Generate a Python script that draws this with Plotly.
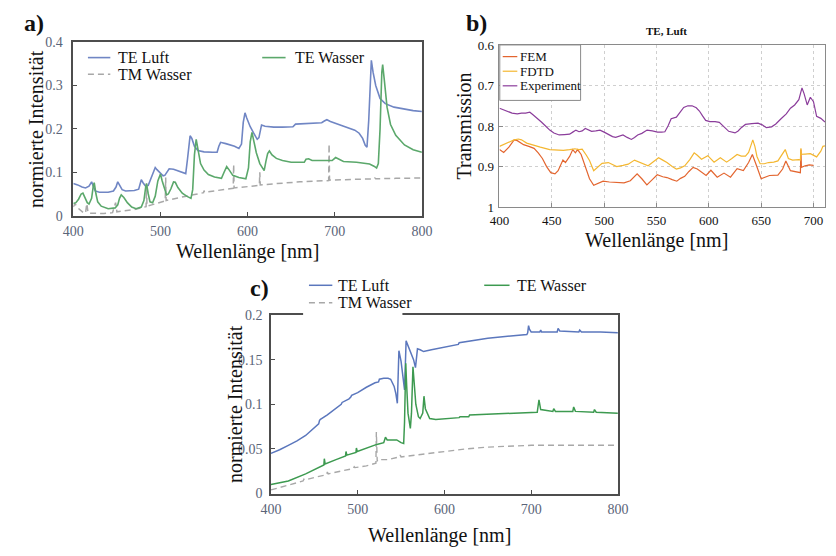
import plotly.graph_objects as go

# ---------------- Panel a data ----------------
a_luft_x = [400, 405, 410, 414, 418, 421, 423, 425, 430, 440, 446, 449, 451, 453, 456, 460, 470, 475, 478, 480,
            483, 486, 489, 492, 494, 496, 500, 503, 505, 508, 510, 515, 520, 525, 529, 531, 534, 536, 539, 543,
            550, 560, 565, 567, 569, 575, 585, 590, 593, 595, 597, 599, 603, 607, 611, 613, 616, 620, 630, 640,
            652, 655, 670, 685, 688, 691, 695, 705, 715, 723, 728, 732, 735, 737, 739, 741, 742, 744, 747, 752,
            758, 768, 780, 790, 800]
a_luft_y = [0.074, 0.071, 0.066, 0.064, 0.068, 0.078, 0.068, 0.057, 0.054, 0.054, 0.057, 0.066, 0.078, 0.072, 0.060,
            0.057, 0.058, 0.061, 0.083, 0.076, 0.068, 0.070, 0.085, 0.104, 0.111, 0.106, 0.097, 0.092, 0.093, 0.104,
            0.108, 0.107, 0.103, 0.099, 0.097, 0.130, 0.184, 0.178, 0.160, 0.150, 0.147, 0.146, 0.146, 0.160, 0.169,
            0.166, 0.160, 0.155, 0.165, 0.215, 0.237, 0.225, 0.205, 0.190, 0.176, 0.180, 0.209, 0.206, 0.204, 0.204,
            0.205, 0.211, 0.212, 0.214, 0.218, 0.221, 0.217, 0.210, 0.204, 0.197, 0.190, 0.178, 0.162, 0.158, 0.220,
            0.330, 0.358, 0.330, 0.300, 0.270, 0.258, 0.250, 0.245, 0.242, 0.240]

a_wasser_x = [400, 403, 406, 409, 411, 413, 416, 418, 421, 423, 424, 426, 428, 432, 440, 448, 451, 453, 455, 458,
              462, 467, 472, 478, 481, 483, 484, 486, 488, 491, 494, 497, 499, 500, 502, 505, 507, 509, 512, 515,
              517, 520, 525, 530, 535, 537, 539, 541, 543, 546, 550, 555, 562, 570, 573, 576, 579, 583, 590, 598,
              601, 603, 605, 607, 610, 614, 619, 621, 623, 625, 628, 633, 640, 650, 660, 665, 667, 670, 674, 690,
              697, 701, 704, 710, 725, 740, 745, 748, 750, 752, 754, 755, 757, 760, 764, 770, 780, 790, 800]
a_wasser_y = [0.028, 0.030, 0.038, 0.050, 0.052, 0.043, 0.030, 0.027, 0.040, 0.070, 0.076, 0.050, 0.032, 0.022, 0.016,
              0.018, 0.025, 0.040, 0.048, 0.042, 0.030, 0.020, 0.016, 0.020, 0.035, 0.065, 0.074, 0.050, 0.032, 0.030,
              0.045, 0.080, 0.095, 0.096, 0.080, 0.058, 0.048, 0.050, 0.062, 0.078, 0.077, 0.065, 0.052, 0.045, 0.040,
              0.060, 0.140, 0.176, 0.150, 0.120, 0.105, 0.095, 0.089, 0.086, 0.100, 0.113, 0.105, 0.093, 0.088, 0.085,
              0.110, 0.170, 0.192, 0.175, 0.145, 0.120, 0.104, 0.125, 0.143, 0.149, 0.140, 0.132, 0.127, 0.123, 0.122,
              0.123, 0.130, 0.131, 0.127, 0.126, 0.127, 0.134, 0.131, 0.125, 0.123, 0.119, 0.114, 0.110, 0.120, 0.200,
              0.330, 0.348, 0.310, 0.250, 0.210, 0.185, 0.163, 0.152, 0.146]

a_tm_x = [400, 402, 404, 408, 412, 414, 415.5, 417, 425, 435, 445, 448.5, 450, 460, 470, 480, 483.5, 484, 484.5, 490,
          500, 505.5, 506, 506.5, 520, 535, 549.5, 550, 550.5, 565, 583.5, 584, 584.5, 600, 613.5, 614, 614.5, 640,
          660, 693, 693.5, 694, 720, 745, 746, 747, 770, 800]
a_tm_y = [0.020, 0.028, 0.020, 0.012, 0.006, 0.006, 0.028, 0.006, 0.005, 0.005, 0.007, 0.030, 0.009, 0.011, 0.014,
          0.019, 0.021, 0.075, 0.022, 0.025, 0.031, 0.034, 0.088, 0.035, 0.041, 0.047, 0.053, 0.058, 0.054, 0.058,
          0.063, 0.118, 0.064, 0.067, 0.070, 0.100, 0.071, 0.075, 0.078, 0.081, 0.165, 0.082, 0.083, 0.085, 0.087,
          0.085, 0.086, 0.087]

# ---------------- Panel b data ----------------
b_exp_x = [400, 404, 408, 412, 417, 421, 425, 429, 432, 436, 440, 444, 448, 452, 457, 462, 467, 470, 473, 476, 479,
           482, 485, 488, 492, 496, 500, 504, 508, 511, 514, 518, 522, 526, 529, 532, 536, 541, 546, 551, 555, 558,
           561, 564, 569, 572, 576, 580, 584, 588, 591, 594, 597, 601, 606, 610, 614, 619, 625, 628, 631, 635, 641,
           647, 651, 655, 660, 664, 669, 674, 678, 682, 686, 689, 691, 694, 697, 700, 703, 707, 711]
b_exp_y = [0.756, 0.760, 0.764, 0.768, 0.770, 0.768, 0.768, 0.766, 0.772, 0.780, 0.790, 0.800, 0.810, 0.817, 0.822,
           0.821, 0.820, 0.815, 0.810, 0.814, 0.812, 0.806, 0.810, 0.813, 0.812, 0.810, 0.815, 0.821, 0.826, 0.828,
           0.826, 0.822, 0.828, 0.833, 0.828, 0.822, 0.818, 0.810, 0.812, 0.815, 0.815, 0.814, 0.800, 0.782, 0.778,
           0.768, 0.754, 0.750, 0.750, 0.755, 0.763, 0.775, 0.786, 0.789, 0.789, 0.791, 0.800, 0.813, 0.817, 0.812,
           0.804, 0.796, 0.794, 0.793, 0.797, 0.804, 0.802, 0.795, 0.782, 0.770, 0.756, 0.748, 0.735, 0.706, 0.720,
           0.748, 0.729, 0.740, 0.776, 0.781, 0.790]

b_fdtd_x = [400, 404, 408, 414, 418, 421, 426, 432, 439, 448, 455, 461, 467, 472, 476, 479, 483, 486, 490, 494, 498,
            504, 508, 512, 518, 523, 529, 534, 538, 542, 547, 552, 556, 560, 565, 569, 573, 577, 582, 586, 589, 593,
            599, 605, 611, 617, 622, 627, 631, 635, 638, 641, 642, 644, 646, 649, 653, 657, 662, 666, 670, 673, 676,
            680, 686, 687.5, 688, 688.5, 692, 697, 703, 707, 709, 711]
b_fdtd_y = [0.850, 0.846, 0.841, 0.834, 0.832, 0.834, 0.842, 0.847, 0.852, 0.858, 0.860, 0.860, 0.858, 0.856, 0.858,
            0.857, 0.872, 0.885, 0.910, 0.900, 0.892, 0.890, 0.895, 0.900, 0.897, 0.894, 0.884, 0.889, 0.895, 0.898,
            0.888, 0.878, 0.884, 0.890, 0.900, 0.906, 0.903, 0.898, 0.882, 0.866, 0.872, 0.882, 0.873, 0.889, 0.878,
            0.889, 0.880, 0.870, 0.874, 0.874, 0.865, 0.840, 0.834, 0.850, 0.875, 0.893, 0.893, 0.890, 0.889, 0.886,
            0.870, 0.858, 0.880, 0.884, 0.883, 0.884, 0.855, 0.870, 0.869, 0.868, 0.876, 0.862, 0.850, 0.849]

b_fem_x = [400, 404, 409, 414, 417, 423, 428, 433, 437, 441, 445, 449, 453, 456, 460.6, 463, 467, 470, 472.5, 474.6,
           478, 482, 486, 490, 494, 499, 505, 512, 519, 525, 531.5, 536, 540.8, 546, 550.7, 556, 560, 565, 569.4,
           573, 577, 581, 585, 589, 593, 597.4, 602, 608, 614.5, 620.7, 627, 633, 638, 641.6, 645.6, 650, 658, 666,
           670.5, 673.6, 678, 686, 687.5, 688, 688.5, 692, 696, 700]
b_fem_y = [0.858, 0.865, 0.852, 0.834, 0.836, 0.846, 0.850, 0.855, 0.866, 0.880, 0.900, 0.915, 0.918, 0.910, 0.884,
           0.890, 0.875, 0.858, 0.866, 0.858, 0.870, 0.900, 0.930, 0.946, 0.942, 0.936, 0.938, 0.939, 0.940, 0.935,
           0.918, 0.930, 0.945, 0.932, 0.920, 0.925, 0.927, 0.932, 0.936, 0.929, 0.924, 0.912, 0.902, 0.906, 0.914,
           0.922, 0.909, 0.926, 0.916, 0.926, 0.905, 0.910, 0.890, 0.870, 0.898, 0.930, 0.922, 0.921, 0.906, 0.886,
           0.910, 0.914, 0.915, 0.858, 0.902, 0.898, 0.896, 0.897]

# ---------------- Panel c data ----------------
c_luft_x = [400, 410, 420, 430, 440, 450, 455, 456, 457, 465, 475, 481, 482, 490, 492, 493, 500, 510, 520, 524, 525,
            530, 535, 538, 542, 544, 545.7, 547.5, 550, 552, 554, 555.8, 558, 561, 564.4, 566.6, 568.9, 572, 576,
            585, 600, 610, 616, 617, 630, 650, 670, 690, 695, 696, 697, 698, 700, 710, 711, 712, 730, 731, 733, 755,
            756, 758, 780, 800]
c_luft_y = [0.045, 0.049, 0.054, 0.059, 0.065, 0.073, 0.078, 0.082, 0.083, 0.088, 0.096, 0.100, 0.102, 0.106, 0.108,
            0.110, 0.113, 0.119, 0.124, 0.125, 0.128, 0.129, 0.129, 0.128, 0.120, 0.112, 0.101, 0.160, 0.148, 0.130,
            0.116, 0.171, 0.166, 0.159, 0.150, 0.141, 0.162, 0.161, 0.159, 0.161, 0.164, 0.166, 0.167, 0.169, 0.171,
            0.174, 0.176, 0.178, 0.178, 0.180, 0.188, 0.184, 0.181, 0.181, 0.183, 0.181, 0.181, 0.185, 0.182, 0.181,
            0.183, 0.181, 0.181, 0.180]

c_wasser_x = [400, 420, 440, 455, 461, 461.5, 462.5, 475, 486, 486.5, 487.5, 498, 498.5, 499.5, 510, 522, 530, 532,
              534, 545, 550, 553, 554, 555.4, 556.5, 558, 560.7, 562, 563.7, 565, 567, 570, 572, 575, 576.4, 578,
              583, 590, 605, 617, 618, 628, 629, 650, 680, 707, 708, 709, 711, 725, 726, 728, 748, 749, 751, 772,
              773, 775, 800]
c_wasser_y = [0.010, 0.014, 0.022, 0.029, 0.032, 0.039, 0.033, 0.038, 0.042, 0.047, 0.043, 0.046, 0.051, 0.047, 0.051,
              0.055, 0.057, 0.063, 0.060, 0.060, 0.057, 0.056, 0.080, 0.146, 0.120, 0.090, 0.073, 0.090, 0.142, 0.125,
              0.100, 0.086, 0.084, 0.090, 0.109, 0.095, 0.084, 0.083, 0.084, 0.085, 0.086, 0.086, 0.088, 0.089, 0.090,
              0.091, 0.098, 0.105, 0.094, 0.092, 0.095, 0.092, 0.092, 0.097, 0.092, 0.091, 0.094, 0.091, 0.090]

c_tm_x = [400, 420, 437, 438, 439, 450, 464, 465, 466, 480, 495, 496, 497, 510, 521, 521.5, 522.5, 523, 535, 548,
          549, 550, 575, 600, 625, 650, 675, 700, 750, 800]
c_tm_y = [0.004, 0.009, 0.014, 0.016, 0.015, 0.018, 0.021, 0.024, 0.022, 0.025, 0.028, 0.030, 0.029, 0.031, 0.034,
          0.069, 0.036, 0.038, 0.038, 0.041, 0.043, 0.041, 0.044, 0.047, 0.050, 0.052, 0.053, 0.054, 0.054, 0.054]

# ---------------- Ticks ----------------
ac_x_ticks = [400, 500, 600, 700, 800]
a_y_ticks = [0, 0.1, 0.2, 0.3, 0.4]
a_y_labels = ["0", "0.1", "0.2", "0.3", "0.4"]
b_x_ticks = [400, 450, 500, 550, 600, 650, 700]
b_y_ticks = [0.6, 0.7, 0.8, 0.9, 1.0]
b_y_labels = ["0.6", "0.7", "0.8", "0.9", "1"]
c_y_ticks = [0, 0.05, 0.1, 0.15, 0.2]
c_y_labels = ["0", "0.05", "0.1", "0.15", "0.2"]

W, H = 836, 556
SERIF = "Liberation Serif, Times New Roman, serif"
BLUE_A, GREEN_A, GRAY = "#7086c4", "#5ba86b", "#a8a8a8"
BLUE_C, GREEN_C = "#5b77bd", "#3d9a50"
FEM_C, FDTD_C, EXP_C = "#e3652f", "#f4b731", "#8b3d9b"
TICKGRAY = "#5a6478"


def px_x(p):
    return p / W


def px_y(p):
    return (H - p) / H


fig = go.Figure()

traces = [
    ("TE Luft", a_luft_x, a_luft_y, dict(color=BLUE_A, width=1.6), "x", "y"),
    ("TM Wasser", a_tm_x, a_tm_y, dict(color=GRAY, width=1.5, dash="6px,4px"), "x", "y"),
    ("TE Wasser", a_wasser_x, a_wasser_y, dict(color=GREEN_A, width=1.6), "x", "y"),
    ("FEM", b_fem_x, b_fem_y, dict(color=FEM_C, width=1.2), "x2", "y2"),
    ("FDTD", b_fdtd_x, b_fdtd_y, dict(color=FDTD_C, width=1.2), "x2", "y2"),
    ("Experiment", b_exp_x, b_exp_y, dict(color=EXP_C, width=1.2), "x2", "y2"),
    ("TE Luft", c_luft_x, c_luft_y, dict(color=BLUE_C, width=1.5), "x3", "y3"),
    ("TM Wasser", c_tm_x, c_tm_y, dict(color=GRAY, width=1.4, dash="6px,4px"), "x3", "y3"),
    ("TE Wasser", c_wasser_x, c_wasser_y, dict(color=GREEN_C, width=1.5), "x3", "y3"),
]
for name, xs, ys, line, xa, ya in traces:
    fig.add_trace(go.Scatter(x=xs, y=ys, name=name, mode="lines", line=line, xaxis=xa, yaxis=ya,
                             showlegend=False))

frame_ac = dict(showline=True, mirror=True, linecolor="#4d4d4d", linewidth=1.5, ticks="inside",
                ticklen=4, tickcolor="#4d4d4d", showgrid=False, zeroline=False,
                tickfont=dict(family=SERIF, size=14, color=TICKGRAY))
frame_b = dict(showline=True, mirror=True, linecolor="#8a8a8a", linewidth=1, ticks="inside",
               ticklen=4, tickcolor="#8a8a8a", showgrid=True, gridcolor="#cfcfcf", griddash="dot",
               gridwidth=1, zeroline=False, tickfont=dict(family=SERIF, size=13, color="#111"))

fig.update_layout(
    width=W, height=H, margin=dict(l=0, r=0, t=0, b=0),
    paper_bgcolor="white", plot_bgcolor="white", showlegend=False,
    xaxis=dict(domain=[px_x(64), px_x(422)], range=[400, 800], tickvals=ac_x_ticks, anchor="y",
               ticklabelstandoff=2, **frame_ac),
    yaxis=dict(domain=[px_y(214.5), px_y(36)], range=[0, 0.4], tickvals=a_y_ticks, ticktext=a_y_labels,
               anchor="x", ticklabelstandoff=6, **frame_ac),
    xaxis2=dict(domain=[px_x(501.7), 1.0], range=[400, 711], tickvals=b_x_ticks, anchor="y2",
                ticklabelstandoff=1, **frame_b),
    yaxis2=dict(domain=[px_y(205.7), px_y(39)], range=[1.0, 0.6], tickvals=b_y_ticks, ticktext=b_y_labels,
                anchor="x2", ticklabelstandoff=2, **frame_b),
    xaxis3=dict(domain=[px_x(267), px_x(623.3)], range=[400, 800], tickvals=ac_x_ticks, anchor="y3",
                ticklabelstandoff=2, **frame_ac),
    yaxis3=dict(domain=[px_y(500), px_y(316.5)], range=[0, 0.2], tickvals=c_y_ticks, ticktext=c_y_labels,
                anchor="x3", ticklabelstandoff=4, **frame_ac),
)

# ---------------- Legends (drawn as keys + text) ----------------
shapes = []
annotations = []


def legend_item(x0, x1, y, tx, label, line, size):
    shapes.append(dict(type="line", xref="paper", yref="paper", x0=px_x(x0), x1=px_x(x1),
                       y0=px_y(y), y1=px_y(y), line=line, layer="above"))
    annotations.append(dict(text=label, x=px_x(tx), y=px_y(y), xanchor="left", yanchor="middle",
                            font=dict(family=SERIF, size=size, color="#111")))


# panel c legend background (covers the top frame like in the reference)
shapes.append(dict(type="rect", xref="paper", yref="paper", x0=px_x(300), x1=px_x(402),
                   y0=px_y(318), y1=px_y(278), fillcolor="white", line=dict(width=0), layer="above"))
# panel b legend box
shapes.append(dict(type="rect", xref="paper", yref="paper", x0=px_x(502), x1=px_x(585),
                   y0=px_y(96), y1=px_y(39), fillcolor="white", line=dict(color="#8a8a8a", width=1),
                   layer="above"))

legend_item(79, 102, 52, 108, "TE Luft", dict(color=BLUE_A, width=1.6), 16)
legend_item(258, 282, 52, 290, "TE Wasser", dict(color=GREEN_A, width=1.6), 16)
legend_item(79, 102, 69, 108, "TM Wasser", dict(color=GRAY, width=1.5, dash="6px,4px"), 16)

legend_item(505, 520, 51, 521, "FEM", dict(color=FEM_C, width=1.2), 13)
legend_item(505, 520, 66, 521, "FDTD", dict(color=FDTD_C, width=1.2), 13)
legend_item(505, 520, 81, 521, "Experiment", dict(color=EXP_C, width=1.2), 13)

legend_item(306, 330, 286, 334, "TE Luft", dict(color=BLUE_C, width=1.5), 16)
legend_item(486, 512, 286, 518, "TE Wasser", dict(color=GREEN_C, width=1.5), 16)
legend_item(306, 330, 304, 334, "TM Wasser", dict(color=GRAY, width=1.4, dash="6px,4px"), 16)

ann_font = dict(family=SERIF, size=20, color="#111")
titles = [
    dict(text="<b>a)</b>", x=px_x(24), y=px_y(16), font=dict(family=SERIF, size=24, color="#111")),
    dict(text="<b>b)</b>", x=px_x(478), y=px_y(16), font=dict(family=SERIF, size=24, color="#111")),
    dict(text="<b>c)</b>", x=px_x(255), y=px_y(289), font=dict(family=SERIF, size=24, color="#111")),
    dict(text="normierte Intensität", x=px_x(25), y=px_y(125), textangle=-90, font=ann_font),
    dict(text="Wellenlänge [nm]", x=px_x(243), y=px_y(251), font=ann_font),
    dict(text="Transmission", x=px_x(465), y=px_y(122), textangle=-90, font=ann_font),
    dict(text="Wellenlänge [nm]", x=px_x(663), y=px_y(240), font=ann_font),
    dict(text="<b>TE, Luft</b>", x=px_x(673), y=px_y(25), font=dict(family=SERIF, size=11, color="#111")),
    dict(text="normierte Intensität", x=px_x(230), y=px_y(408), textangle=-90, font=ann_font),
    dict(text="Wellenlänge [nm]", x=px_x(440), y=px_y(543), font=ann_font),
]
for t in titles:
    t.update(xanchor="center", yanchor="middle")
annotations = titles + annotations
for a in annotations:
    a.update(xref="paper", yref="paper", showarrow=False)

fig.update_layout(shapes=shapes, annotations=annotations)

fig.write_html("out.html", config={"displayModeBar": False},
               post_script="document.body.style.margin='0px';")
